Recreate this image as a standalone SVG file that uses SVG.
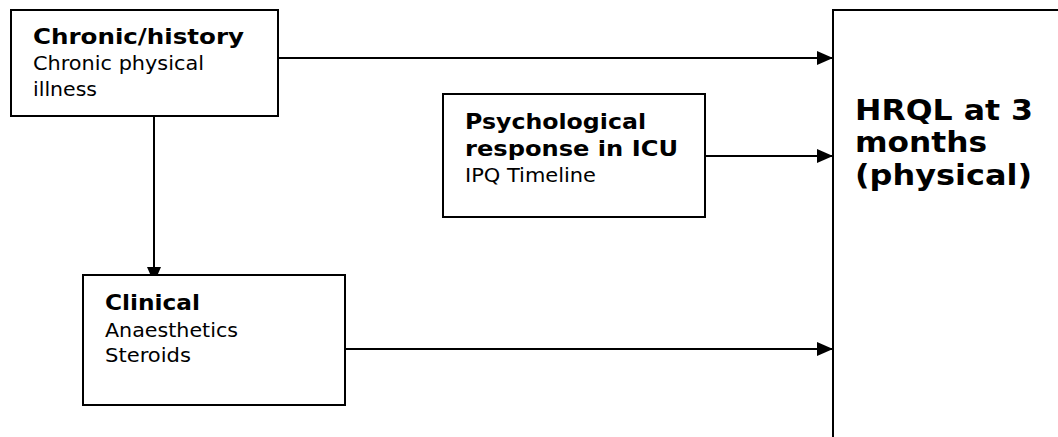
<svg xmlns="http://www.w3.org/2000/svg" width="1058" height="437" viewBox="0 0 1058 437">
  <defs>
    <style>
      .box { fill: #fff; stroke: #000; stroke-width: 2; }
      .edge { stroke: #000; stroke-width: 2; fill: none; }
      .t { font-family: "DejaVu Sans", Verdana, sans-serif; fill: #000; }
      .h { font-weight: bold; font-size: 21px; }
      .r { font-size: 20px; }
      .big { font-weight: bold; font-size: 29px; }
    </style>
    <marker id="arrow" viewBox="0 0 16 14" refX="16" refY="7" markerWidth="16" markerHeight="14" markerUnits="userSpaceOnUse" orient="auto">
      <path d="M0,0 L16,7 L0,14 Z" fill="#000"/>
    </marker>
  </defs>
  <rect width="1058" height="437" fill="#fff"/>

  <g id="connectors">
    <line class="edge" x1="278" y1="58" x2="833" y2="58" marker-end="url(#arrow)"/>
    <line class="edge" x1="705" y1="156" x2="833" y2="156" marker-end="url(#arrow)"/>
    <line class="edge" x1="345" y1="349" x2="833" y2="349" marker-end="url(#arrow)"/>
    <line class="edge" x1="154" y1="116" x2="154" y2="283" marker-end="url(#arrow)"/>
  </g>

  <g id="chronic">
    <rect class="box" x="11" y="10" width="267" height="106"/>
    <text class="t h" x="33" y="44" textLength="211" lengthAdjust="spacingAndGlyphs">Chronic/history</text>
    <text class="t r" x="33" y="70" textLength="171" lengthAdjust="spacingAndGlyphs">Chronic physical</text>
    <text class="t r" x="33" y="96" textLength="64" lengthAdjust="spacingAndGlyphs">illness</text>
  </g>

  <g id="psychological">
    <rect class="box" x="443" y="94" width="262" height="123"/>
    <text class="t h" x="465" y="129" textLength="181" lengthAdjust="spacingAndGlyphs">Psychological</text>
    <text class="t h" x="465" y="156" textLength="213" lengthAdjust="spacingAndGlyphs">response in ICU</text>
    <text class="t r" x="465" y="182" textLength="131" lengthAdjust="spacingAndGlyphs">IPQ Timeline</text>
  </g>

  <g id="clinical">
    <rect class="box" x="83" y="275" width="262" height="130"/>
    <text class="t h" x="105" y="310" textLength="95" lengthAdjust="spacingAndGlyphs">Clinical</text>
    <text class="t r" x="105" y="337" textLength="133" lengthAdjust="spacingAndGlyphs">Anaesthetics</text>
    <text class="t r" x="105" y="362" textLength="86" lengthAdjust="spacingAndGlyphs">Steroids</text>
  </g>

  <g id="hrql">
    <rect class="box" x="833" y="10" width="240" height="440"/>
    <text class="t big" x="855" y="120" textLength="178" lengthAdjust="spacingAndGlyphs">HRQL at 3</text>
    <text class="t big" x="855" y="152" textLength="132" lengthAdjust="spacingAndGlyphs">months</text>
    <text class="t big" x="855" y="185" textLength="177" lengthAdjust="spacingAndGlyphs">(physical)</text>
  </g>
</svg>
